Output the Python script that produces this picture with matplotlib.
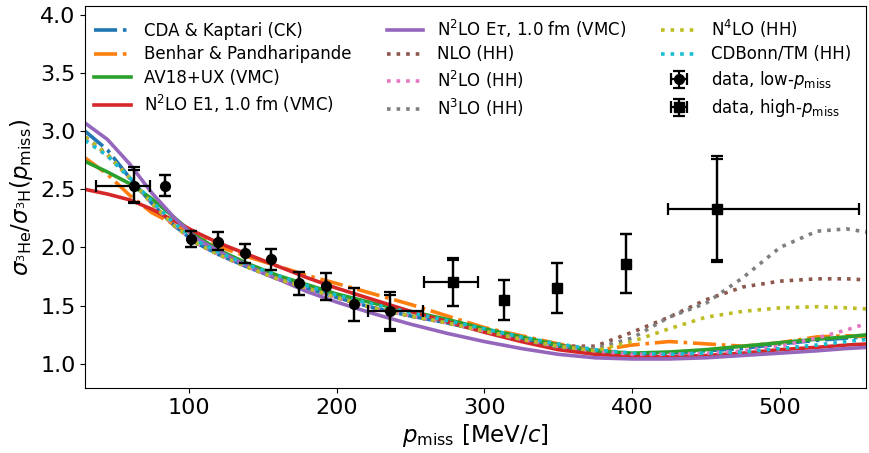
import matplotlib
matplotlib.use("Agg")
import matplotlib.pyplot as plt
import numpy as np

# ---------------- data ----------------
p_grid = [30, 45, 60, 75, 90, 105, 120, 140, 160, 180, 200, 225, 250, 275,
          300, 325, 350, 375, 400, 425, 450, 475, 500, 525, 545, 560]

ck = [3.00, 2.84, 2.60, 2.38, 2.19, 2.04, 1.94, 1.83, 1.73, 1.65, 1.57, 1.48, 1.41, 1.35,
      1.28, 1.21, 1.15, 1.10, 1.08, 1.09, 1.11, 1.13, 1.17, 1.20, 1.22, 1.23]
bp = [2.77, 2.63, 2.45, 2.30, 2.20, 2.10, 2.01, 1.92, 1.84, 1.76, 1.69, 1.60, 1.51, 1.41,
      1.31, 1.24, 1.17, 1.11, 1.16, 1.19, 1.17, 1.15, 1.18, 1.23, 1.24, 1.23]
av18 = [2.74, 2.65, 2.55, 2.42, 2.26, 2.10, 1.98, 1.86, 1.76, 1.68, 1.60, 1.52, 1.45, 1.38,
        1.30, 1.23, 1.16, 1.11, 1.09, 1.10, 1.12, 1.15, 1.18, 1.21, 1.23, 1.25]
n2lo_e1 = [2.50, 2.46, 2.41, 2.33, 2.23, 2.13, 2.04, 1.94, 1.84, 1.74, 1.65, 1.55, 1.45, 1.36,
           1.27, 1.19, 1.12, 1.08, 1.06, 1.06, 1.07, 1.09, 1.12, 1.14, 1.16, 1.17]
n2lo_etau = [3.07, 2.93, 2.72, 2.47, 2.26, 2.08, 1.97, 1.84, 1.73, 1.62, 1.53, 1.43, 1.34, 1.26,
             1.19, 1.13, 1.08, 1.05, 1.04, 1.04, 1.05, 1.07, 1.09, 1.11, 1.13, 1.14]
nlo_hh = [2.95, 2.80, 2.60, 2.38, 2.19, 2.04, 1.94, 1.83, 1.73, 1.65, 1.57, 1.48, 1.41, 1.35,
          1.28, 1.21, 1.15, 1.15, 1.27, 1.40, 1.55, 1.66, 1.71, 1.73, 1.73, 1.72]
n2lo_hh = [2.93, 2.79, 2.60, 2.38, 2.19, 2.04, 1.94, 1.83, 1.73, 1.65, 1.57, 1.48, 1.41, 1.35,
           1.28, 1.21, 1.15, 1.11, 1.08, 1.08, 1.09, 1.11, 1.15, 1.22, 1.29, 1.35]
n3lo_hh = [2.95, 2.80, 2.60, 2.38, 2.19, 2.04, 1.94, 1.83, 1.73, 1.65, 1.57, 1.48, 1.41, 1.35,
           1.28, 1.21, 1.14, 1.13, 1.22, 1.40, 1.52, 1.74, 2.00, 2.14, 2.16, 2.13]
n4lo_hh = [2.95, 2.80, 2.60, 2.38, 2.19, 2.04, 1.94, 1.83, 1.73, 1.65, 1.57, 1.48, 1.41, 1.35,
           1.28, 1.21, 1.15, 1.11, 1.19, 1.30, 1.40, 1.45, 1.48, 1.49, 1.48, 1.47]
cdbonn_hh = [2.92, 2.79, 2.60, 2.40, 2.21, 2.06, 1.96, 1.85, 1.76, 1.67, 1.59, 1.51, 1.44, 1.37,
             1.30, 1.23, 1.17, 1.12, 1.09, 1.08, 1.09, 1.10, 1.13, 1.16, 1.19, 1.21]

low_p = [63, 84, 101.8, 119.8, 138, 156, 174.8, 193.2, 211.7, 236.5]
low_ratio = [2.53, 2.53, 2.07, 2.05, 1.95, 1.90, 1.69, 1.67, 1.51, 1.45]
low_err_up = [0.16, 0.09, 0.07, 0.08, 0.08, 0.09, 0.10, 0.11, 0.14, 0.165]
low_err_dn = [0.15, 0.09, 0.07, 0.07, 0.08, 0.09, 0.10, 0.12, 0.14, 0.17]
low_stat_up = [0.14, 0.09, 0.07, 0.08, 0.08, 0.09, 0.10, 0.11, 0.14, 0.14]
low_stat_dn = [0.14, 0.09, 0.07, 0.07, 0.08, 0.09, 0.10, 0.12, 0.14, 0.15]
low_xerr_lo = [26, 0, 0, 0, 0, 0, 0, 0, 0, 15]
low_xerr_hi = [11, 0, 0, 0, 0, 0, 0, 0, 0, 22]

high_p = [279, 313, 349, 395.7, 457.6]
high_ratio = [1.70, 1.55, 1.65, 1.86, 2.33]
high_err_up = [0.21, 0.17, 0.215, 0.255, 0.455]
high_err_dn = [0.20, 0.175, 0.215, 0.255, 0.455]
high_stat_up = [0.19, 0.17, 0.215, 0.255, 0.435]
high_stat_dn = [0.20, 0.175, 0.215, 0.255, 0.44]
high_xerr_lo = [20, 0, 0, 0, 33]
high_xerr_hi = [16.5, 0, 0, 0, 96]

# ---------------- plot ----------------
fig = plt.figure(figsize=(8.7, 4.53), dpi=100)
ax = fig.add_axes([0.098, 0.1435, 0.897, 0.8435])

lw = 2.6
ax.plot(p_grid, ck, color='C0', ls='-.', lw=lw, label='CDA & Kaptari (CK)')
ax.plot(p_grid, bp, color='C1', ls='-.', lw=lw, label='Benhar & Pandharipande')
ax.plot(p_grid, av18, color='C2', ls='-', lw=lw, label='AV18+UX (VMC)')
ax.plot(p_grid, n2lo_e1, color='C3', ls='-', lw=lw, label=r'N$^2$LO E1, 1.0 fm (VMC)')
ax.plot(p_grid, n2lo_etau, color='C4', ls='-', lw=lw, label=r'N$^2$LO E$\tau$, 1.0 fm (VMC)')
ax.plot(p_grid, nlo_hh, color='C5', ls=':', lw=lw, label='NLO (HH)')
ax.plot(p_grid, n2lo_hh, color='C6', ls=':', lw=lw, label=r'N$^2$LO (HH)')
ax.plot(p_grid, n3lo_hh, color='C7', ls=':', lw=lw, label=r'N$^3$LO (HH)')
ax.plot(p_grid, n4lo_hh, color='C8', ls=':', lw=lw, label=r'N$^4$LO (HH)')
ax.plot(p_grid, cdbonn_hh, color='C9', ls=':', lw=lw, label='CDBonn/TM (HH)')

ax.errorbar(low_p, low_ratio, yerr=[low_err_dn, low_err_up],
            xerr=[low_xerr_lo, low_xerr_hi], fmt='o', color='black', ms=7,
            capsize=4, elinewidth=1.6, capthick=1.6, label=r'data, low-$p_\mathrm{miss}$', zorder=5)
ax.errorbar(low_p, low_ratio, yerr=[low_stat_dn, low_stat_up], fmt='none', ecolor='black',
            capsize=4, elinewidth=1.6, capthick=1.6, zorder=5)
ax.errorbar(high_p, high_ratio, yerr=[high_err_dn, high_err_up],
            xerr=[high_xerr_lo, high_xerr_hi], fmt='s', color='black', ms=6.5,
            capsize=4, elinewidth=1.6, capthick=1.6, label=r'data, high-$p_\mathrm{miss}$', zorder=5)
ax.errorbar(high_p, high_ratio, yerr=[high_stat_dn, high_stat_up], fmt='none', ecolor='black',
            capsize=4, elinewidth=1.6, capthick=1.6, zorder=5)

ax.set_xlim(30, 558)
ax.set_ylim(0.79, 4.08)
ax.set_xticks([100, 200, 300, 400, 500])
ax.set_yticks([1.0, 1.5, 2.0, 2.5, 3.0, 3.5, 4.0])
ax.tick_params(labelsize=16)
ax.set_xlabel(r'$p_\mathrm{miss}$ [MeV/$c$]', fontsize=16.5, labelpad=3)
ax.set_ylabel(r'$\sigma_{^3\mathrm{He}}/\sigma_{^3\mathrm{H}}(p_\mathrm{miss})$', fontsize=16.5, labelpad=4)

ax.legend(ncol=3, loc='upper left', bbox_to_anchor=(-0.008, 1.009), frameon=False, fontsize=12,
          labelspacing=0.35, columnspacing=2.1, handlelength=2.2)

fig.savefig('out.png', dpi=100)
